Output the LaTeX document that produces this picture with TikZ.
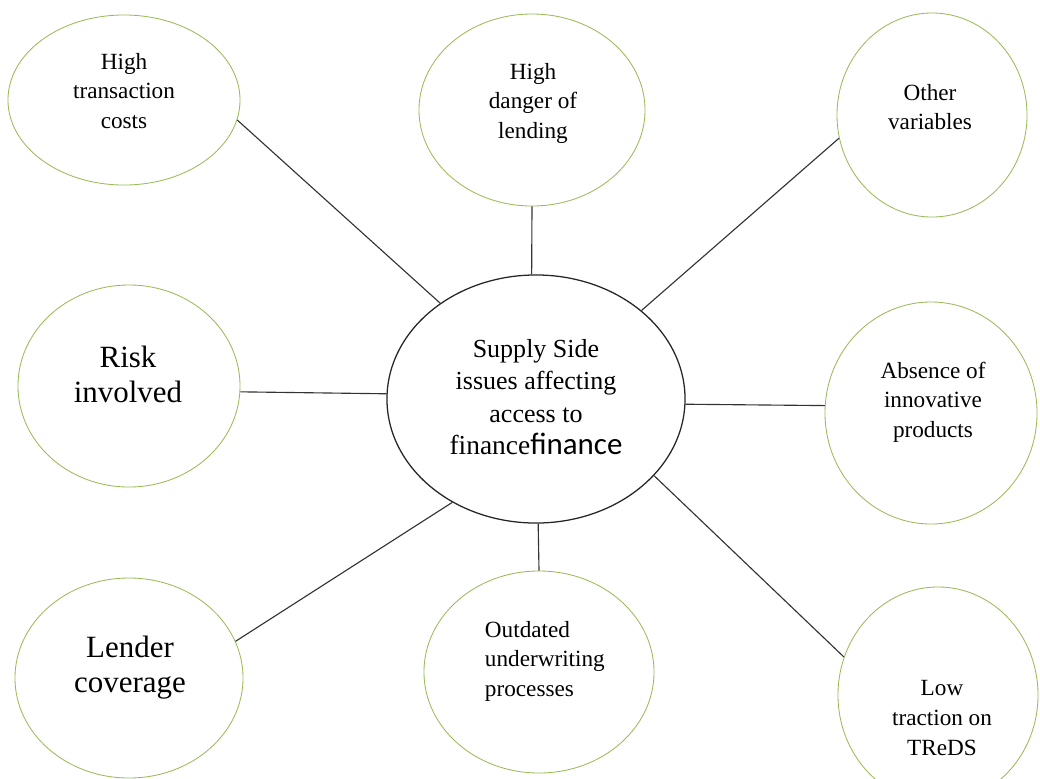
\documentclass[tikz,border=0pt]{standalone}
\usepackage{fontspec}
\setmainfont{Liberation Serif}
\newfontfamily\calibrifont{Carlito}
\usepackage{tikz}
\usetikzlibrary{shapes.geometric}
\definecolor{bubblegreen}{RGB}{155,187,89}
\tikzset{bubble/.style={ellipse, draw=bubblegreen, line width=0.6pt, inner sep=0pt},
hub/.style={ellipse, draw=black!85, line width=0.9pt, inner sep=0pt, minimum width=7.45cm, minimum height=6.2cm},
spoke/.style={draw=black!80, line width=0.8pt},
txt/.style={align=center, font=\fontsize{16.5}{21}\selectfont, execute at begin node=\setlength{\baselineskip}{21pt}},
bigtxt/.style={align=center, font=\fontsize{22}{25}\selectfont, execute at begin node=\setlength{\baselineskip}{25pt}}}

\begin{document}
\begin{tikzpicture}[x=0.025cm,y=-0.025cm]
		\fill[white] (0,0) rectangle (1040,778);
		\useasboundingbox (0,0) rectangle (1040,778);
		% centre
		\node[hub] (hub) at (536,399) {};
		\node[align=center, font=\fontsize{18.5}{21}\selectfont, execute at begin node=\setlength{\baselineskip}{23pt}] (hubtext) at (536,397)
			{Supply Side\\issues affecting\\access to\\{\fontsize{19.5}{23}\selectfont finance}{\calibrifont\fontsize{22}{23}\selectfont finance}};
		% bubbles
		\node[bubble, minimum width=5.8cm, minimum height=4.25cm] (tl) at (124,100) {};
		\node[txt] (tltext) at (124,91) {High\\transaction\\costs};
		\node[bubble, minimum width=5.65cm, minimum height=4.8cm] (tc) at (532,110) {};
		\node[txt] (tctext) at (533,103) {High\\danger of\\lending};
		\node[bubble, minimum width=4.75cm, minimum height=5.1cm] (tr) at (932,115) {};
		\node[txt] (trtext) at (930,107) {Other\\variables};
		\node[bubble, minimum width=5.55cm, minimum height=5.05cm] (ml) at (129,386) {};
		\node[bigtxt] (mltext) at (128,374) {Risk\\involved};
		\node[bubble, minimum width=5.3cm, minimum height=5.55cm] (mr) at (931,413) {};
		\node[txt] (mrtext) at (933,402) {Absence of\\innovative\\products};
		\node[bubble, minimum width=5.7cm, minimum height=5cm] (bl) at (129,678) {};
		\node[bigtxt] (bltext) at (130,668) {Lender\\coverage};
		\node[bubble, minimum width=5.75cm, minimum height=5.05cm] (bc) at (539,672) {};
		\node[txt, align=left, anchor=west] (bctext) at (480,661) {Outdated\\underwriting\\processes};
		\node[bubble, minimum width=5cm, minimum height=5.4cm] (br) at (938,695) {};
		\node[txt] (brtext) at (942,718) {Low\\traction on\\TReDS};
		% spokes
		\draw[spoke] (hub.135) -- (tl.350);
		\draw[spoke] (tc.south) -- (hub.92);
		\draw[spoke] (hub.40) -- (tr.194);
		\draw[spoke] (ml.357) -- (hub.178);
		\draw[spoke] (hub.358) -- (mr.176);
		\draw[spoke] (hub.231) -- (bl.19);
		\draw[spoke] (hub.271.5) -- (bc.north);
		\draw[spoke] (hub.327) -- (br.158);
		\end{tikzpicture}
\end{document}
